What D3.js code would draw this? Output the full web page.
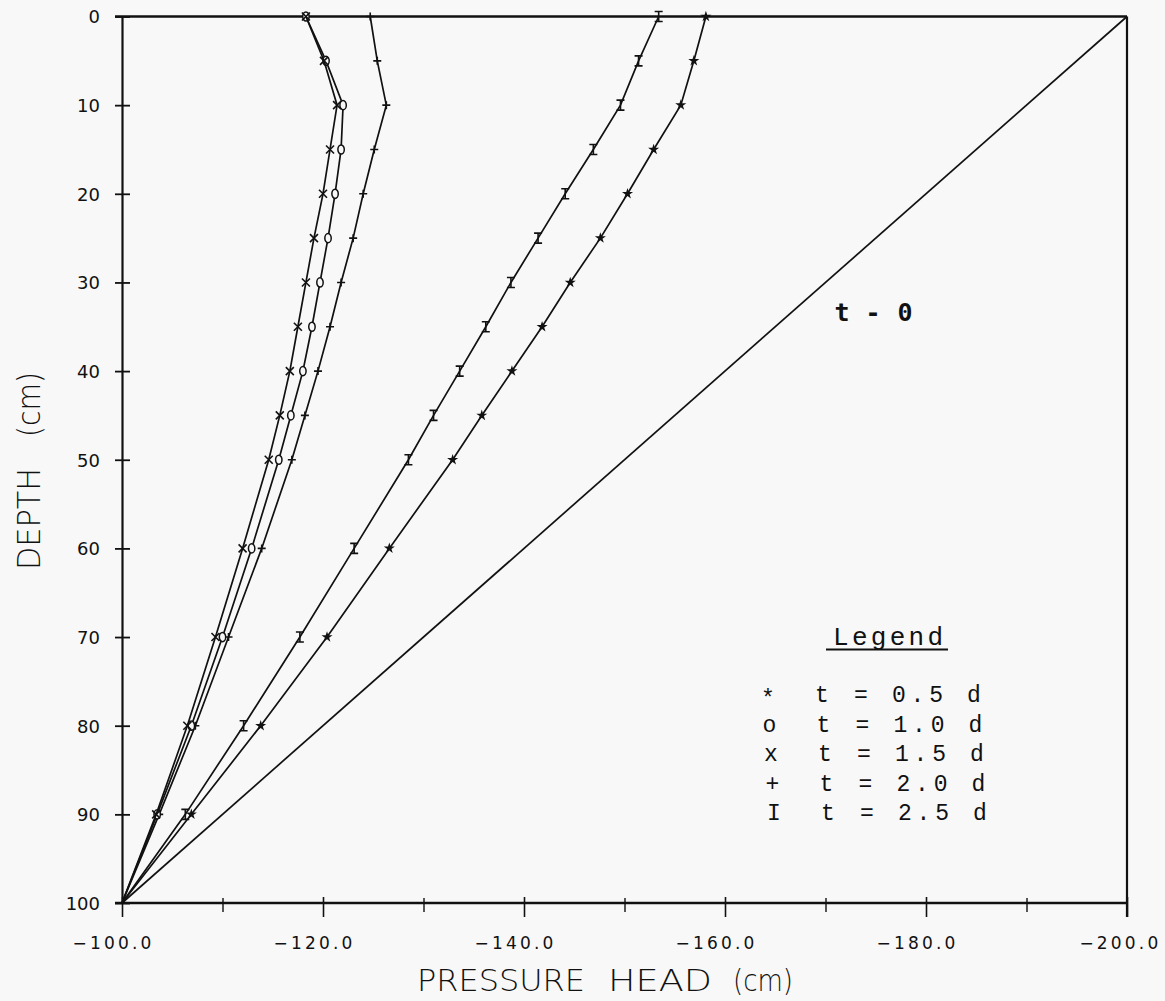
<!DOCTYPE html>
<html>
<head>
<meta charset="utf-8">
<script src="https://cdn.jsdelivr.net/npm/d3@7"></script>
<style>
  html, body { margin: 0; padding: 0; background: #f8f8f8; }
  svg { display: block; }
</style>
</head>
<body>
<svg id="chart" width="1165" height="1001"></svg>
<script>
// ---------------- data ----------------
const depths = [0, 5, 10, 15, 20, 25, 30, 35, 40, 45, 50, 60, 70, 80, 90, 100];

// pressure head (cm) per depth, one array per curve
const headStar  = [-158.1, -156.9, -155.6, -152.9, -150.3, -147.6, -144.6, -141.8, -138.8, -135.8, -132.9, -126.6, -120.4, -113.8, -106.9, -100];
const headIbar  = [-153.4, -151.4, -149.6, -146.9, -144.1, -141.4, -138.7, -136.2, -133.6, -131.0, -128.5, -123.1, -117.7, -112.1, -106.3, -100];
const headPlus  = [-124.7, -125.4, -126.3, -125.1, -124.0, -123.0, -121.8, -120.7, -119.5, -118.2, -116.9, -113.9, -110.6, -107.3, -103.7, -100];
const headCirc  = [-118.3, -120.3, -122.0, -121.8, -121.2, -120.5, -119.7, -118.9, -118.0, -116.8, -115.6, -112.9, -110.0, -106.9, -103.5, -100];
const headCross = [-118.3, -120.1, -121.4, -120.7, -120.0, -119.1, -118.3, -117.5, -116.7, -115.7, -114.6, -112.0, -109.3, -106.5, -103.4, -100];

// initial condition t = 0
const depthsT0 = [0, 100];
const headT0   = [-200, -100];

// ticks
const yTicks       = [0, 10, 20, 30, 40, 50, 60, 70, 80, 90, 100];
const xMajorTicks  = [-100, -120, -140, -160, -180, -200];
const xMinorTicks  = [-110, -130, -150, -170, -190];

// legend
const legendSymbols = ["*", "o", "x", "+", "I"];
const legendTimes   = ["0.5", "1.0", "1.5", "2.0", "2.5"];

// ---------------- scales ----------------
const svg = d3.select("#chart");
const x = d3.scaleLinear().domain([-100, -200]).range([122, 1127]);
const y = d3.scaleLinear().domain([0, 100]).range([16.5, 903]);
const ink = "#111";

// ---------------- frame ----------------
const frame = svg.append("g").attr("stroke", ink).attr("fill", "none");
frame.append("line")            // top
  .attr("x1", x(-100) - 7).attr("x2", x(-200))
  .attr("y1", y(0)).attr("y2", y(0)).attr("stroke-width", 2.4);
frame.append("line")            // right
  .attr("x1", x(-200)).attr("x2", x(-200))
  .attr("y1", y(0)).attr("y2", y(100) + 14).attr("stroke-width", 2.2);

// ---------------- y axis ----------------
const yAxis = svg.append("g")
  .attr("transform", `translate(${x(-100)},0)`)
  .call(d3.axisLeft(y).tickValues(yTicks).tickSize(7).tickPadding(22).tickSizeOuter(0));
yAxis.select(".domain").attr("stroke", ink).attr("stroke-width", 2.2);
yAxis.selectAll(".tick line").attr("x1", -7).attr("x2", 8).attr("stroke", ink).attr("stroke-width", 1.8);
yAxis.selectAll(".tick text")
  .attr("fill", ink)
  .attr("font-family", "DejaVu Sans, sans-serif")
  .attr("font-size", 18)
  .attr("x", 100 - x(-100))
  .attr("dy", "0.36em");

// ---------------- x axis ----------------
const xAxis = svg.append("g")
  .attr("transform", `translate(0,${y(100)})`)
  .call(d3.axisBottom(x).tickValues(xMajorTicks).tickSize(14).tickSizeOuter(0).tickFormat(d3.format(".1f")));
xAxis.select(".domain").attr("stroke", ink).attr("stroke-width", 2.4)
  .attr("d", `M${x(-100) - 7},0H${x(-200)}`);
xAxis.selectAll(".tick line").attr("y1", -6).attr("stroke", ink).attr("stroke-width", 1.6);
xAxis.selectAll(".tick text")
  .attr("fill", ink)
  .attr("font-family", "DejaVu Sans, sans-serif")
  .attr("font-size", 17)
  .attr("letter-spacing", "3.2px")
  .attr("y", 46)
  .attr("dy", 0)
  .attr("text-anchor", d => d === -200 ? "end" : "middle")
  .attr("x", d => d === -200 ? 1161 - x(-200) : -9);

const xMinor = svg.append("g")
  .attr("transform", `translate(0,${y(100)})`)
  .call(d3.axisBottom(x).tickValues(xMinorTicks).tickSize(9).tickFormat(""));
xMinor.select(".domain").remove();
xMinor.selectAll(".tick line").attr("y1", -5).attr("stroke", ink).attr("stroke-width", 1.4);

// ---------------- axis titles ----------------
const titleFont = "DejaVu Sans, sans-serif";
const xt = svg.append("g").attr("fill", ink).attr("font-family", titleFont)
  .attr("font-size", 31).attr("font-weight", 300);
[["PRESSURE", 417, 168], ["HEAD", 608, 104], ["(cm)", 733, 60]].forEach(([t, px, w]) => {
  xt.append("text").attr("x", px).attr("y", 991)
    .attr("textLength", w).attr("lengthAdjust", "spacingAndGlyphs").text(t);
});
const yt = svg.append("g").attr("fill", ink).attr("font-family", titleFont)
  .attr("font-size", 32).attr("font-weight", 300)
  .attr("transform", "translate(40,570) rotate(-90)");
[["DEPTH", 0, 102], ["(cm)", 133, 65]].forEach(([t, px, w]) => {
  yt.append("text").attr("x", px).attr("y", 0)
    .attr("textLength", w).attr("lengthAdjust", "spacingAndGlyphs").text(t);
});

// ---------------- curves ----------------
const line = d3.line().x(d => x(d.h)).y(d => y(d.z));
const toPts = (hs, zs) => hs.map((h, i) => ({ h, z: zs[i] }));

const series = [
  { name: "t = 0.5 d", values: headStar,  marker: "star"  },
  { name: "t = 2.5 d", values: headIbar,  marker: "ibar"  },
  { name: "t = 2.0 d", values: headPlus,  marker: "plus"  },
  { name: "t = 1.0 d", values: headCirc,  marker: "circ"  },
  { name: "t = 1.5 d", values: headCross, marker: "cross" }
];

const plot = svg.append("g");
plot.append("path")
  .datum(toPts(headT0, depthsT0))
  .attr("d", line).attr("fill", "none").attr("stroke", ink).attr("stroke-width", 1.7);

const markerPaths = {
  ibar:  "M-4,-5H4M0,-5V5M-4,5H4",
  plus:  "M-4,0H4M0,-4V4",
  cross: "M-4,-4L4,4M-4,4L4,-4"
};
const starSym = d3.symbol(d3.symbolStar, 38)();

series.forEach(s => {
  const pts = toPts(s.values, depths);
  plot.append("path").datum(pts)
    .attr("d", line).attr("fill", "none").attr("stroke", ink).attr("stroke-width", 1.7);
  const g = plot.append("g").selectAll("g").data(pts.filter(p => p.z < 100)).join("g")
    .attr("transform", d => `translate(${x(d.h)},${y(d.z)})`);
  if (s.marker === "star") {
    g.append("path").attr("d", starSym).attr("fill", ink);
  } else if (s.marker === "circ") {
    g.append("ellipse").attr("rx", 3.2).attr("ry", 4.6)
      .attr("fill", "#f8f8f8").attr("stroke", ink).attr("stroke-width", 1.5);
  } else {
    g.append("path").attr("d", markerPaths[s.marker])
      .attr("fill", "none").attr("stroke", ink).attr("stroke-width", 1.6);
  }
});

// ---------------- "t - 0" label ----------------
const t0 = svg.append("g").attr("fill", ink)
  .attr("font-family", "DejaVu Sans Mono, monospace").attr("font-size", 25)
  .attr("font-weight", "bold").attr("text-anchor", "middle");
[["t", 842], ["-", 873], ["0", 905]].forEach(([t, px]) => {
  t0.append("text").attr("x", px).attr("y", 321).text(t);
});

// ---------------- legend ----------------
const lg = svg.append("g").attr("fill", ink)
  .attr("font-family", "Liberation Mono, monospace").attr("font-size", 23);
lg.append("text").attr("x", 833).attr("y", 645).attr("font-size", 26)
  .attr("textLength", 110).attr("lengthAdjust", "spacing").text("Legend");
lg.append("line").attr("x1", 826).attr("x2", 948).attr("y1", 649.5).attr("y2", 649.5)
  .attr("stroke", ink).attr("stroke-width", 2.2);

const rowBase = [702, 732, 761, 791, 820];
legendSymbols.forEach((sym, i) => {
  const dx = i * 1.5;
  const by = rowBase[i];
  lg.append("text").attr("x", 768 + dx).attr("y", by + (sym === "*" ? 4 : 0))
    .attr("text-anchor", "middle").text(sym);
  lg.append("text").attr("x", 822 + dx).attr("y", by).attr("text-anchor", "middle").text("t");
  lg.append("text").attr("x", 861 + dx).attr("y", by).attr("text-anchor", "middle").text("=");
  lg.append("text").attr("x", 892 + dx).attr("y", by)
    .attr("textLength", 51).attr("lengthAdjust", "spacing").text(legendTimes[i]);
  lg.append("text").attr("x", 974 + dx).attr("y", by).attr("text-anchor", "middle").text("d");
});
</script>
</body>
</html>
